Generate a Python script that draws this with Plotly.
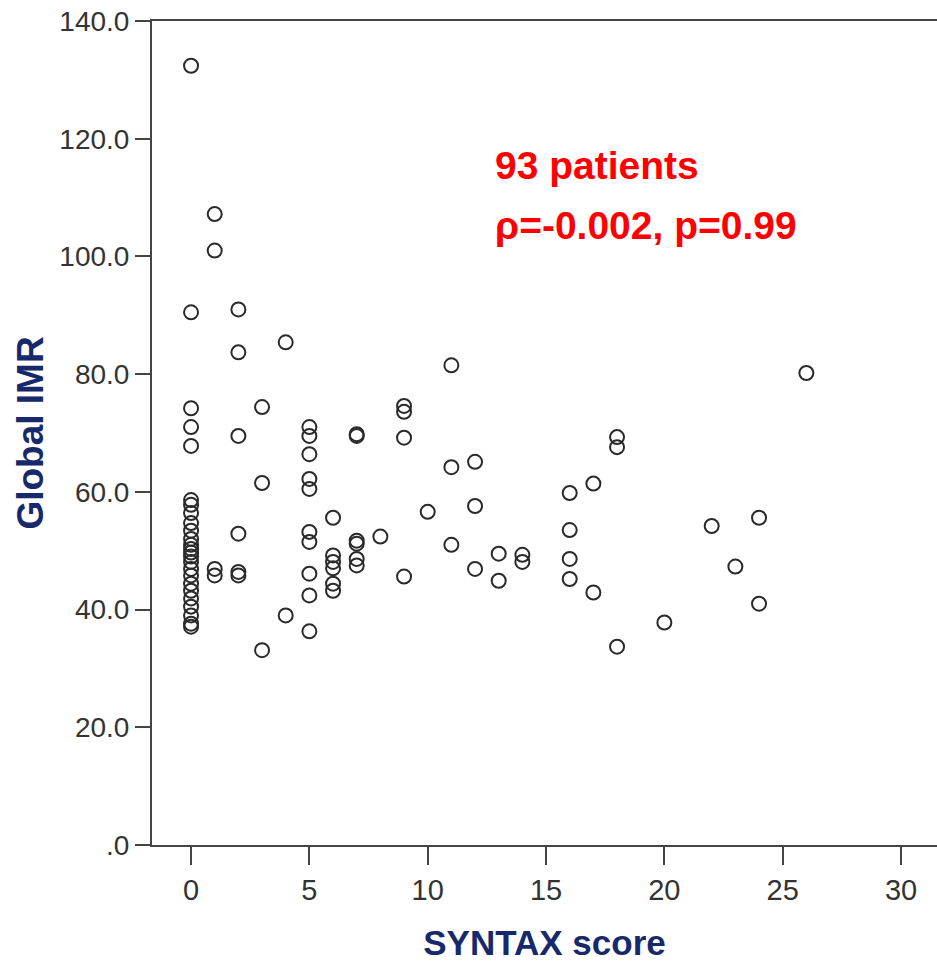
import plotly.graph_objects as go

# SYNTAX score (x) and Global IMR (y) per patient
syntax_score = (
    [0] * 25
    + [1] * 4
    + [2] * 6
    + [3] * 3
    + [4] * 2
    + [5] * 10
    + [6] * 6
    + [7] * 6
    + [8]
    + [9] * 4
    + [10]
    + [11] * 3
    + [12] * 3
    + [13] * 2
    + [14] * 2
    + [16] * 4
    + [17] * 2
    + [18] * 3
    + [20]
    + [22]
    + [23]
    + [24] * 2
    + [26]
)

global_imr = [
    # SYNTAX 0
    132.4, 90.5, 74.2, 71.0, 67.8,
    58.6, 57.8, 56.4, 54.7, 53.4, 52.0, 51.0, 50.3, 49.7, 49.0,
    48.1, 46.9, 45.8, 44.4, 43.2, 41.9, 40.5, 39.0, 37.6, 37.1,
    # 1
    107.2, 101.0, 46.9, 45.8,
    # 2
    91.0, 83.7, 69.5, 52.9, 46.4, 45.8,
    # 3
    74.4, 61.5, 33.1,
    # 4
    85.4, 39.0,
    # 5
    71.0, 69.5, 66.4, 62.2, 60.5, 53.2, 51.5, 46.1, 42.4, 36.3,
    # 6
    55.6, 49.2, 48.1, 47.0, 44.4, 43.2,
    # 7
    69.8, 69.5, 51.7, 51.2, 48.6, 47.5,
    # 8
    52.4,
    # 9
    74.6, 73.6, 69.2, 45.6,
    # 10
    56.6,
    # 11
    81.5, 64.2, 51.0,
    # 12
    65.1, 57.6, 46.9,
    # 13
    49.5, 44.9,
    # 14
    49.3, 48.1,
    # 16
    59.8, 53.5, 48.6, 45.2,
    # 17
    61.4, 42.9,
    # 18
    69.3, 67.6, 33.7,
    # 20
    37.8,
    # 22
    54.2,
    # 23
    47.3,
    # 24
    55.6, 41.0,
    # 26
    80.2,
]

x_ticks = [0, 5, 10, 15, 20, 25, 30]
y_ticks = [0, 20, 40, 60, 80, 100, 120, 140]
y_tick_text = [".0", "20.0", "40.0", "60.0", "80.0", "100.0", "120.0", "140.0"]

annotation_lines = ["93 patients", "ρ=-0.002, p=0.99"]

SANS = "Liberation Sans, Arial, sans-serif"
NAVY = "#17296b"

fig = go.Figure()
fig.add_trace(
    go.Scatter(
        x=syntax_score,
        y=global_imr,
        mode="markers",
        marker=dict(
            symbol="circle-open",
            size=14,
            color="#2a2a2a",
            line=dict(width=2, color="#2a2a2a"),
        ),
        showlegend=False,
        hoverinfo="x+y",
    )
)

fig.update_layout(
    width=937,
    height=971,
    margin=dict(l=152, r=0, t=21, b=126),
    paper_bgcolor="white",
    plot_bgcolor="white",
    xaxis=dict(
        range=[-1.65, 31.52],
        tickvals=x_ticks,
        ticks="outside",
        ticklen=18,
        tickwidth=2,
        tickcolor="#444",
        showline=True,
        linecolor="#444",
        linewidth=2,
        mirror=True,
        showgrid=False,
        zeroline=False,
        tickfont=dict(family=SANS, size=29, color="#333"),
        title=dict(
            text="SYNTAX score",
            font=dict(family=SANS, size=35, color=NAVY, weight="bold"),
            standoff=26,
        ),
    ),
    yaxis=dict(
        range=[0, 140],
        tickvals=y_ticks,
        ticktext=y_tick_text,
        ticks="outside",
        ticklen=15,
        tickwidth=2,
        tickcolor="#444",
        showline=True,
        linecolor="#444",
        linewidth=2,
        showgrid=False,
        zeroline=False,
        tickfont=dict(family=SANS, size=28, color="#333"),
        title=dict(
            text="Global IMR",
            font=dict(family=SANS, size=37, color=NAVY, weight="bold"),
            standoff=4,
        ),
    ),
)

for i, line in enumerate(annotation_lines):
    fig.add_annotation(
        xref="paper",
        yref="paper",
        x=0.434,
        y=0.825 - i * 0.073,
        xanchor="left",
        yanchor="middle",
        text=line,
        showarrow=False,
        font=dict(family=SANS, size=39, color="#ff0000", weight="bold"),
    )

fig.write_html("out.html")
